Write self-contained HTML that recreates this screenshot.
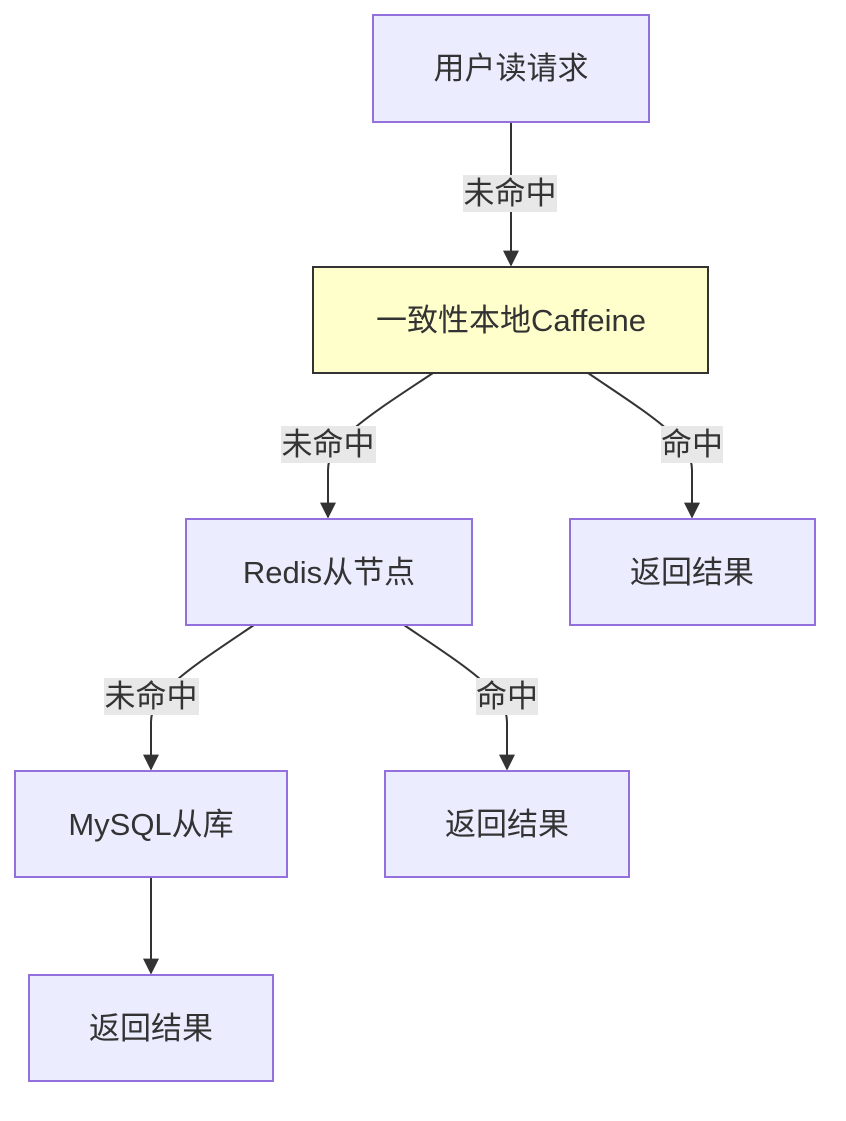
<!DOCTYPE html>
<html><head><meta charset="utf-8"><style>
html,body{margin:0;padding:0;background:#fff;}
text{font-family:"Liberation Sans","Noto Sans CJK SC",sans-serif;font-size:31px;fill:#333;}
</style></head><body>
<svg width="846" height="1116" viewBox="0 0 846 1116" xmlns="http://www.w3.org/2000/svg">
<defs><marker id="a" viewBox="0 0 10 10" refX="9" refY="5" markerWidth="8" markerHeight="8" orient="auto"><path d="M0,0 L10,5 L0,10 z" fill="#333"/></marker></defs>
<g fill="none" stroke="#333" stroke-width="2">
<path d="M511,122 L511,265" marker-end="url(#a)"/>
<path d="M433,373 C370,415 328,440 328,470 L328,517" marker-end="url(#a)"/>
<path d="M588,373 C650,415 692,440 692,470 L692,517" marker-end="url(#a)"/>
<path d="M254,625 C192,667 151,692 151,722 L151,769" marker-end="url(#a)"/>
<path d="M404,625 C466,667 507,692 507,722 L507,769" marker-end="url(#a)"/>
<path d="M151,877 L151,973" marker-end="url(#a)"/>
</g>
<g fill="#e8e8e8">
<rect x="463" y="175" width="94" height="37"/>
<rect x="281" y="426" width="95" height="37"/>
<rect x="661" y="426" width="62" height="37"/>
<rect x="104" y="678" width="95" height="37"/>
<rect x="476" y="678" width="62" height="37"/>
</g>
<g text-anchor="middle">
<text x="510" y="204">未命中</text>
<text x="328" y="455">未命中</text>
<text x="692" y="455">命中</text>
<text x="151" y="707">未命中</text>
<text x="507" y="707">命中</text>
</g>
<g stroke-width="2">
<rect x="373" y="15" width="276" height="107" fill="#ECECFF" stroke="#9370DB"/>
<rect x="313" y="267" width="395" height="106" fill="#FFFFCC" stroke="#333"/>
<rect x="186" y="519" width="286" height="106" fill="#ECECFF" stroke="#9370DB"/>
<rect x="570" y="519" width="245" height="106" fill="#ECECFF" stroke="#9370DB"/>
<rect x="15" y="771" width="272" height="106" fill="#ECECFF" stroke="#9370DB"/>
<rect x="385" y="771" width="244" height="106" fill="#ECECFF" stroke="#9370DB"/>
<rect x="29" y="975" width="244" height="106" fill="#ECECFF" stroke="#9370DB"/>
</g>
<g text-anchor="middle">
<text x="511" y="79">用户读请求</text>
<text x="511" y="331">一致性本地Caffeine</text>
<text x="329" y="583">Redis从节点</text>
<text x="692" y="583">返回结果</text>
<text x="151" y="835">MySQL从库</text>
<text x="507" y="835">返回结果</text>
<text x="151" y="1039">返回结果</text>
</g>
</svg>
</body></html>
